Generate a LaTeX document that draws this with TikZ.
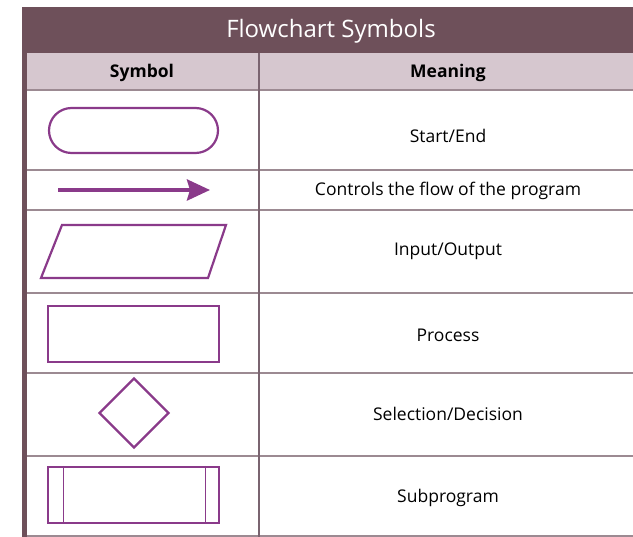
\documentclass[tikz,border=0pt]{standalone}
\usepackage{fontspec}
\setmainfont{Open Sans}
\usetikzlibrary{shapes.geometric,shapes.misc,arrows.meta,positioning}
\definecolor{bandmauve}{HTML}{6E505A}
\definecolor{headmauve}{HTML}{D6C7CF}
\definecolor{sympurple}{HTML}{8A3A8A}
\definecolor{rowline}{HTML}{9C8A92}
\definecolor{colline}{HTML}{7A6470}

\begin{document}
\begin{tikzpicture}[x=1pt,y=-1pt,
  sym node/.style={draw=sympurple,line width=2.2pt,inner sep=0pt},
  meaning/.style={font=\fontsize{17.5}{20}\selectfont},
  head/.style={font=\fontsize{17.5}{20}\selectfont\bfseries}]
    \useasboundingbox (0,0) rectangle (633,537);

    % title and header bands
    \fill[bandmauve] (22,7) rectangle (633,53);
    \fill[headmauve] (22,53) rectangle (633,90);
    \node[text=white,font=\fontsize{24}{28}\selectfont] (title) at (331,31.5) {Flowchart Symbols};
    \node[head] (symhead) at (142,73) {Symbol};
    \node[head] (meanhead) at (448,73) {Meaning};

    % grid
    \foreach \y in {90,170,210,293,373,456,536}
        \draw[rowline,line width=1.3pt] (22,\y) -- (633,\y);
    \draw[colline,line width=1.3pt] (259,53) -- (259,537);
    \fill[bandmauve] (22,53) rectangle (27,537);

    % symbols
    \node[sym node,rounded rectangle,minimum width=169pt,minimum height=45pt] (startend) at (133.5,130.5) {};
    \coordinate (flow start) at (58,190);
    \coordinate (flow end) at (210,190);
    \draw[sympurple,line width=4pt,-{Stealth[length=23pt,width=21pt,inset=3pt]}] (flow start) -- (flow end);
    \draw[sympurple,line width=2.2pt,line join=miter] (62,225) -- (226,225) -- (208,278) -- (41,278) -- cycle;
    \node[sym node,rectangle,minimum width=171pt,minimum height=56pt] (process) at (133.5,334) {};
    \node[sym node,diamond,minimum width=70pt,minimum height=70pt] (decision) at (134,413) {};
    \node[sym node,rectangle,minimum width=171pt,minimum height=56pt] (subprog) at (133.5,495) {};
    \draw[sympurple,line width=1.1pt] ([xshift=17pt]subprog.north west) -- ([xshift=17pt]subprog.south west);
    \draw[sympurple,line width=1.1pt] ([xshift=-15pt]subprog.north east) -- ([xshift=-15pt]subprog.south east);

    % meanings
    \node[meaning] (m1) at (448,135.5) {Start/End};
    \node[meaning] (m2) at (448,190.5) {Controls the flow of the program};
    \node[meaning] (m3) at (448,251.5) {Input/Output};
    \node[meaning] (m4) at (448,335.5) {Process};
    \node[meaning] (m5) at (448,413.5) {Selection/Decision};
    \node[meaning] (m6) at (448,497.5) {Subprogram};
\end{tikzpicture}
\end{document}
